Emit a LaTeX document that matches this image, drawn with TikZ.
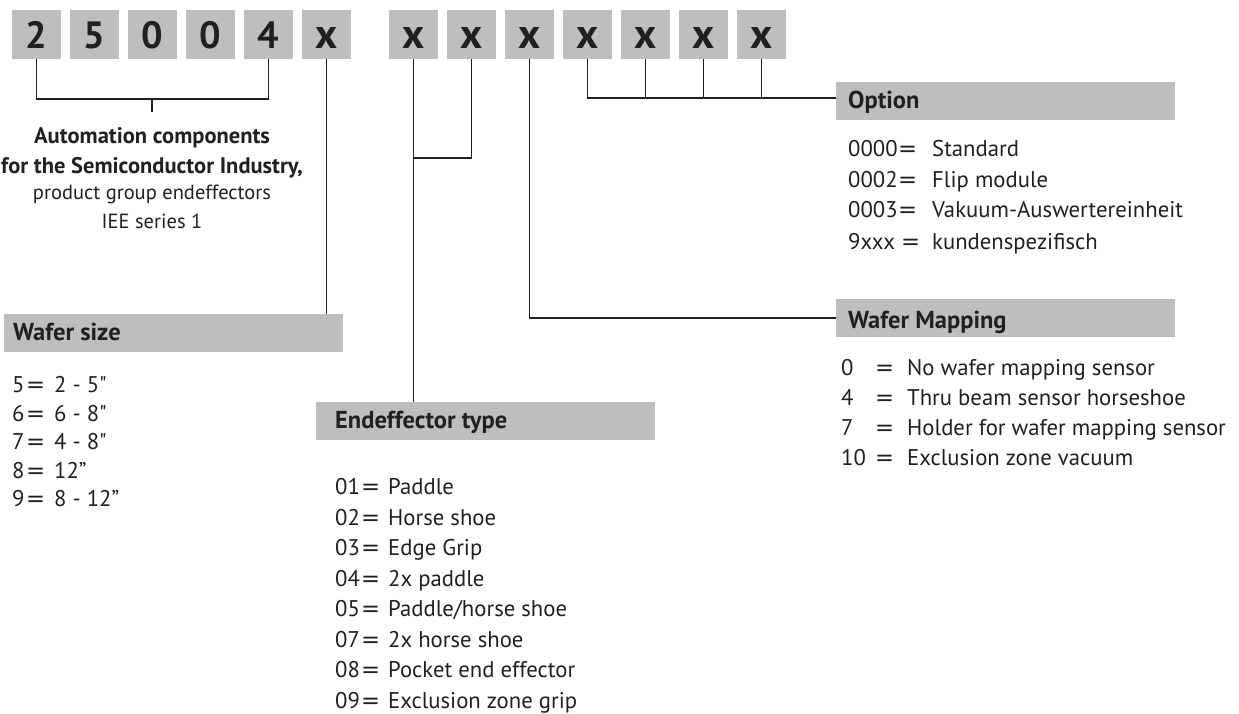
\documentclass[tikz,border=0pt]{standalone}
\usepackage{fontspec}
\setmainfont{PT Sans}
\newfontfamily\ptraw{PT Sans}[Ligatures=TeXOff]
\newfontfamily\eqfont{DejaVu Sans}
\usepackage{tikz}
\usepackage{xcolor}
\definecolor{boxgray}{HTML}{BCBEC0}
\definecolor{inkdark}{HTML}{231F20}
\newcommand{\listkey}[2]{\makebox[#1][l]{#2}}
\newcommand{\eqsign}{{\eqfont=}}
\newcommand{\inch}{{\ptraw"}}

\begin{document}
\begin{tikzpicture}[x=1pt,y=-1pt,
  digitbox/.style={fill=boxgray,minimum size=49pt,inner sep=0pt,text height=28pt,text depth=0pt,text=inkdark,font=\fontsize{38}{38}\selectfont\bfseries},
  xbox/.style={digitbox,font=\fontsize{42}{42}\selectfont\bfseries},
  headbox/.style={fill=boxgray,anchor=north west,minimum width=339pt,minimum height=38pt,inner sep=0pt},
  headtext/.style={anchor=base west,inner sep=0pt,text=inkdark,font=\fontsize{24.5}{24.5}\selectfont\bfseries},
  listline/.style={anchor=base west,inner sep=0pt,text=inkdark,font=\fontsize{22.7}{22.7}\selectfont},
  centerline/.style={anchor=base,inner sep=0pt,text=inkdark,font=\fontsize{20.5}{20.5}\selectfont},
  centerbold/.style={centerline,font=\fontsize{22.5}{22.5}\selectfont\bfseries},
  conn/.style={draw=inkdark,line width=1.8pt}]
\useasboundingbox (0,0) rectangle (1239,714);
% code boxes
\node[digitbox] (d1) at (36.5,34.5) {2};
\node[digitbox] (d2) at (94.5,34.5) {5};
\node[digitbox] (d3) at (152.5,34.5) {0};
\node[digitbox] (d4) at (210.5,34.5) {0};
\node[digitbox] (d5) at (268.5,34.5) {4};
\node[xbox] (d6) at (326.5,34.5) {x};
\node[xbox] (d7) at (413.5,34.5) {x};
\node[xbox] (d8) at (471.5,34.5) {x};
\node[xbox] (d9) at (529.5,34.5) {x};
\node[xbox] (d10) at (587.5,34.5) {x};
\node[xbox] (d11) at (645.5,34.5) {x};
\node[xbox] (d12) at (703.5,34.5) {x};
\node[xbox] (d13) at (761.5,34.5) {x};
% headers
\node[headbox] (hopt) at (836,82) {};
\node[headtext] (topt) at (848,109) {Option};
\node[headbox] (hmap) at (836,299) {};
\node[headtext] (tmap) at (848,328) {Wafer Mapping};
\node[headbox] (hwafer) at (4,314) {};
\node[headtext] (twafer) at (13,340) {Wafer size};
\node[headbox] (hend) at (316,402) {};
\node[headtext] (tend) at (335,428) {Endeffector type};
% group text
\node[centerbold] (c1) at (152,144) {Automation components};
\node[centerbold] (c2) at (152,174) {for the Semiconductor Industry,};
\node[centerline] (c3) at (152,200) {product group endeffectors};
\node[centerline] (c4) at (152,228) {IEE series 1};
% connectors
\coordinate (brk) at (152,99);
\coordinate (tick) at (152,112);
\coordinate (j78) at (413.5,158);
\coordinate (jopt) at ([yshift=3pt]hopt.west);
\draw[conn] (d1.south) |- (brk) -| (d5.south);
\draw[conn] (brk) -- (tick);
\draw[conn] (d6.south) -- (d6.south |- hwafer.north);
\draw[conn] (d7.south) -- (d7.south |- hend.north);
\draw[conn] (d8.south) |- (j78);
\draw[conn] (d9.south) |- (hmap.west);
\draw[conn] (d10.south) |- (jopt);
\draw[conn] (d11.south) -- (d11.south |- jopt);
\draw[conn] (d12.south) -- (d12.south |- jopt);
\draw[conn] (d13.south) -- (d13.south |- jopt);
% option list
\node[listline] (o1) at (848,157) {\listkey{50pt}{0000}\listkey{34pt}{\eqsign}Standard};
\node[listline] (o2) at (848,188) {\listkey{50pt}{0002}\listkey{34pt}{\eqsign}Flip module};
\node[listline] (o3) at (848,218) {\listkey{50pt}{0003}\listkey{34pt}{\eqsign}Vakuum-Auswertereinheit};
\node[listline] (o4) at (848,249) {\listkey{53pt}{9xxx}\listkey{31pt}{\eqsign}kundenspezifisch};
% wafer mapping list
\node[listline] (m1) at (841,375) {\listkey{34pt}{0}\listkey{32pt}{\eqsign}No wafer mapping sensor};
\node[listline] (m2) at (841,405) {\listkey{34pt}{4}\listkey{32pt}{\eqsign}Thru beam sensor horseshoe};
\node[listline] (m3) at (841,435) {\listkey{34pt}{7}\listkey{32pt}{\eqsign}Holder for wafer mapping sensor};
\node[listline] (m4) at (841,465) {\listkey{34pt}{10}\listkey{32pt}{\eqsign}Exclusion zone vacuum};
% wafer size list
\node[listline] (w1) at (12,392) {\listkey{14pt}{5}\listkey{28pt}{\eqsign}2 - 5\inch};
\node[listline] (w2) at (12,421) {\listkey{14pt}{6}\listkey{28pt}{\eqsign}6 - 8\inch};
\node[listline] (w3) at (12,449) {\listkey{14pt}{7}\listkey{28pt}{\eqsign}4 - 8\inch};
\node[listline] (w4) at (12,478) {\listkey{14pt}{8}\listkey{28pt}{\eqsign}12”};
\node[listline] (w5) at (12,506) {\listkey{14pt}{9}\listkey{28pt}{\eqsign}8 - 12”};
% endeffector list
\node[listline] (e1) at (335,494) {\listkey{26pt}{01}\listkey{27pt}{\eqsign}Paddle};
\node[listline] (e2) at (335,525) {\listkey{26pt}{02}\listkey{27pt}{\eqsign}Horse shoe};
\node[listline] (e3) at (335,555) {\listkey{26pt}{03}\listkey{27pt}{\eqsign}Edge Grip};
\node[listline] (e4) at (335,586) {\listkey{26pt}{04}\listkey{27pt}{\eqsign}2x paddle};
\node[listline] (e5) at (335,616) {\listkey{26pt}{05}\listkey{27pt}{\eqsign}Paddle/horse shoe};
\node[listline] (e6) at (335,647) {\listkey{26pt}{07}\listkey{27pt}{\eqsign}2x horse shoe};
\node[listline] (e7) at (335,677) {\listkey{26pt}{08}\listkey{27pt}{\eqsign}Pocket end effector};
\node[listline] (e8) at (335,708) {\listkey{26pt}{09}\listkey{27pt}{\eqsign}Exclusion zone grip};
\end{tikzpicture}
\end{document}
